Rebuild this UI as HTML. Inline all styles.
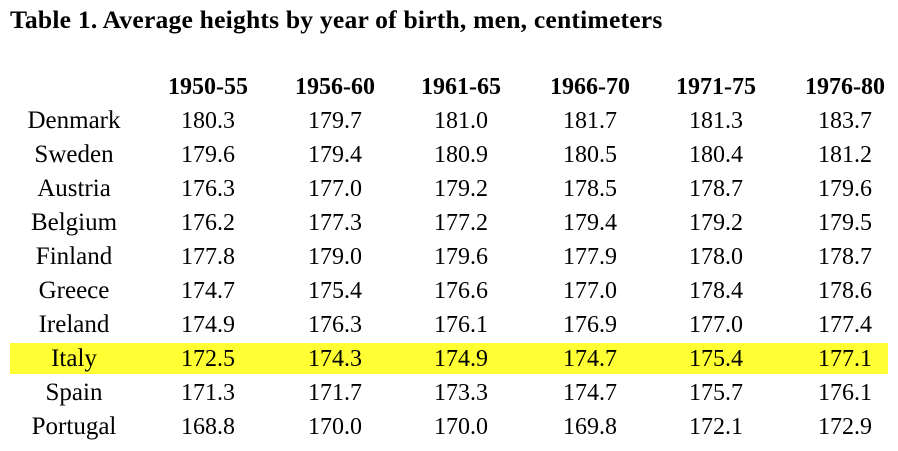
<!DOCTYPE html>
<html><head><style>
*{font-family:"Liberation Serif","Times New Roman","DejaVu Serif",serif}
body{margin:0;width:898px;height:451px;background:#fff;position:relative;color:#000;overflow:hidden}
.t{position:absolute;left:10px;top:5px;font-weight:bold;font-size:25.6px;white-space:nowrap;letter-spacing:0.2px}
.hl{position:absolute;left:10px;top:343px;width:878px;height:31px;background:#ffff33}
.c{position:absolute;width:140px;margin-left:-70px;text-align:center;font-size:24px;line-height:26px;white-space:nowrap}
.h{font-weight:bold;font-size:24px}
.n{font-size:25px}
</style></head><body>
<div class="t">Table 1. Average heights by year of birth, men, centimeters</div>
<div class="hl"></div>
<div id="g"></div>
<script>
var xs=[74,208,335,461,590,716,845];
var hdr=["","1950-55","1956-60","1961-65","1966-70","1971-75","1976-80"];
var rows=[["Denmark","180.3","179.7","181.0","181.7","181.3","183.7"],
["Sweden","179.6","179.4","180.9","180.5","180.4","181.2"],
["Austria","176.3","177.0","179.2","178.5","178.7","179.6"],
["Belgium","176.2","177.3","177.2","179.4","179.2","179.5"],
["Finland","177.8","179.0","179.6","177.9","178.0","178.7"],
["Greece","174.7","175.4","176.6","177.0","178.4","178.6"],
["Ireland","174.9","176.3","176.1","176.9","177.0","177.4"],
["Italy","172.5","174.3","174.9","174.7","175.4","177.1"],
["Spain","171.3","171.7","173.3","174.7","175.7","176.1"],
["Portugal","168.8","170.0","170.0","169.8","172.1","172.9"]];
var h="";
for(var i=1;i<7;i++)h+='<div class="c h" style="left:'+xs[i]+'px;top:74px">'+hdr[i]+'</div>';
for(var r=0;r<rows.length;r++)for(var i=0;i<7;i++)
h+='<div class="c'+(i==0?' n':'')+'" style="left:'+xs[i]+'px;top:'+(108+r*34)+'px">'+rows[r][i]+'</div>';
document.getElementById("g").innerHTML=h;
</script>
</body></html>
